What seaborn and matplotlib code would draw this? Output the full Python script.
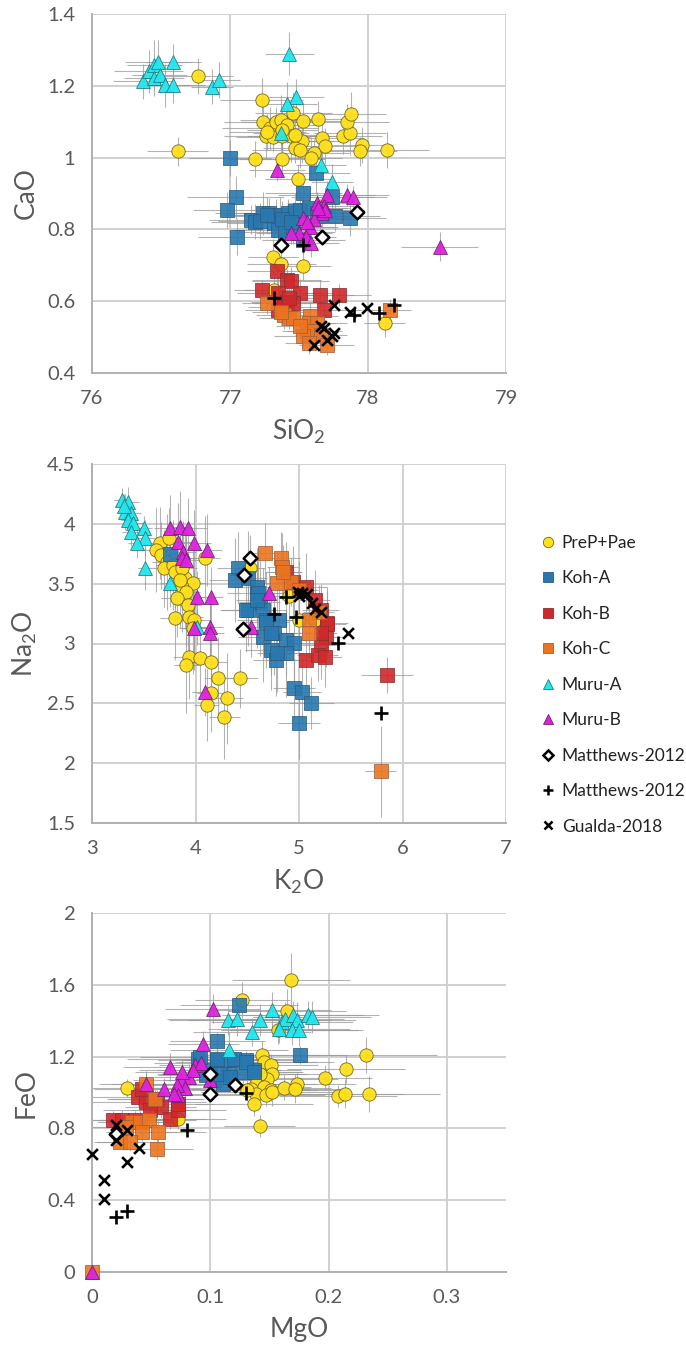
import matplotlib
matplotlib.use("Agg")
import matplotlib.pyplot as plt
from matplotlib.lines import Line2D
from matplotlib.ticker import FuncFormatter
import seaborn as sns
import pandas as pd

# ---------------------------------------------------------------- groups
groups = ["PreP+Pae", "Koh-A", "Koh-B", "Koh-C", "Muru-A", "Muru-B",
          "Matthews-2012", "Matthews-2012 ", "Gualda-2018"]

# ------------------------------------------------------- SiO2 vs CaO
prep_sio2 = [76.77, 76.62, 77.23, 77.24, 77.29, 77.33, 77.37, 77.41, 77.46, 77.53,
             77.64, 77.26, 77.31, 77.38, 77.44, 77.49, 77.52, 77.47, 77.51, 77.67,
             77.69, 77.61, 77.59, 77.18, 77.38, 77.49, 77.82, 77.87, 77.85, 77.88,
             77.96, 77.94, 78.14, 77.31, 77.37, 77.53, 77.32, 78.12, 77.27, 77.38,
             77.47]
prep_cao = [1.227, 1.017, 1.161, 1.100, 1.082, 1.100, 1.105, 1.091, 1.124, 1.103,
            1.108, 1.059, 1.057, 1.059, 1.059, 1.045, 1.045, 1.026, 1.022, 1.054,
            1.033, 1.012, 0.998, 0.996, 0.996, 0.940, 1.059, 1.068, 1.100, 1.122,
            1.035, 1.017, 1.022, 0.723, 0.704, 0.697, 0.630, 0.539, 1.072, 1.077,
            1.063]
prep_sio2_err = [0.25, 0.22, 0.30, 0.28, 0.35, 0.25, 0.30, 0.22, 0.28, 0.33,
                 0.25, 0.30, 0.27, 0.24, 0.32, 0.26, 0.29, 0.23, 0.35, 0.30,
                 0.27, 0.25, 0.22, 0.20, 0.31, 0.24, 0.28, 0.26, 0.30, 0.25,
                 0.22, 0.27, 0.30, 0.18, 0.25, 0.20, 0.22, 0.15, 0.28, 0.26,
                 0.24]
prep_cao_err = [0.05, 0.04, 0.06, 0.05, 0.06, 0.04, 0.07, 0.05, 0.06, 0.05,
                0.05, 0.06, 0.04, 0.05, 0.07, 0.05, 0.06, 0.04, 0.05, 0.06,
                0.05, 0.04, 0.06, 0.05, 0.05, 0.04, 0.05, 0.06, 0.05, 0.06,
                0.05, 0.04, 0.05, 0.05, 0.04, 0.04, 0.05, 0.04, 0.05, 0.06,
                0.05]

koha_sio2 = [77.00, 77.04, 76.98, 77.05, 77.15, 77.18, 77.24, 77.28, 77.33, 77.36,
             77.42, 77.47, 77.51, 77.57, 77.53, 77.62, 77.74, 77.76, 77.87, 77.22,
             77.32, 77.41, 77.65, 77.63, 77.35, 77.40, 77.46, 77.53, 77.27, 77.38,
             77.44]
koha_cao = [1.000, 0.890, 0.855, 0.778, 0.827, 0.822, 0.845, 0.847, 0.836, 0.841,
            0.845, 0.850, 0.855, 0.859, 0.901, 0.958, 0.891, 0.836, 0.831, 0.823,
            0.817, 0.817, 0.836, 0.845, 0.799, 0.794, 0.808, 0.771, 0.840, 0.830,
            0.820]
koha_sio2_err = [0.30, 0.35, 0.25, 0.28, 0.30, 0.32, 0.35, 0.27, 0.30, 0.38,
                 0.33, 0.29, 0.35, 0.30, 0.28, 0.25, 0.30, 0.33, 0.26, 0.31,
                 0.34, 0.28, 0.30, 0.27, 0.32, 0.36, 0.29, 0.30, 0.33, 0.27,
                 0.31]
koha_cao_err = [0.05, 0.06, 0.05, 0.05, 0.04, 0.05, 0.06, 0.04, 0.05, 0.05,
                0.04, 0.05, 0.06, 0.05, 0.05, 0.06, 0.05, 0.04, 0.05, 0.05,
                0.04, 0.05, 0.05, 0.04, 0.06, 0.05, 0.05, 0.04, 0.05, 0.05,
                0.04]

kohb_sio2 = [77.34, 77.41, 77.44, 77.23, 77.35, 77.51, 77.41, 77.38, 77.46, 77.65,
             77.79, 77.68, 77.35, 77.39, 77.43]
kohb_cao = [0.683, 0.660, 0.655, 0.630, 0.622, 0.622, 0.599, 0.595, 0.595, 0.618,
            0.618, 0.576, 0.576, 0.585, 0.610]
kohb_sio2_err = [0.22, 0.25, 0.28, 0.20, 0.30, 0.24, 0.26, 0.22, 0.27, 0.25,
                 0.23, 0.28, 0.24, 0.26, 0.22]
kohb_cao_err = [0.04, 0.03, 0.04, 0.03, 0.05, 0.04, 0.03, 0.04, 0.03, 0.04,
                0.03, 0.04, 0.03, 0.04, 0.03]

kohc_sio2 = [77.27, 77.39, 77.43, 77.46, 77.58, 77.57, 77.63, 77.56, 77.61, 77.53,
             77.66, 77.57, 77.70, 78.16, 77.37, 77.51]
kohc_cao = [0.595, 0.562, 0.553, 0.553, 0.558, 0.539, 0.539, 0.516, 0.516, 0.502,
            0.507, 0.484, 0.479, 0.576, 0.571, 0.530]
kohc_sio2_err = [0.18, 0.20, 0.22, 0.17, 0.20, 0.19, 0.22, 0.18, 0.20, 0.21,
                 0.19, 0.17, 0.20, 0.15, 0.21, 0.18]
kohc_cao_err = [0.03, 0.04, 0.03, 0.03, 0.04, 0.03, 0.03, 0.03, 0.04, 0.03,
                0.03, 0.03, 0.03, 0.03, 0.04, 0.03]

murua_sio2 = [76.37, 76.41, 76.45, 76.48, 76.45, 76.49, 76.53, 76.59, 76.59, 76.87,
              76.92, 77.43, 77.48, 77.41, 77.37, 77.66, 77.74]
murua_cao = [1.212, 1.240, 1.258, 1.267, 1.221, 1.230, 1.202, 1.202, 1.267, 1.198,
             1.216, 1.289, 1.170, 1.150, 1.068, 0.980, 0.931]
murua_sio2_err = [0.22, 0.25, 0.20, 0.24, 0.22, 0.20, 0.18, 0.23, 0.20, 0.15,
                  0.15, 0.18, 0.20, 0.22, 0.20, 0.18, 0.15]
murua_cao_err = [0.05, 0.06, 0.07, 0.06, 0.05, 0.05, 0.06, 0.05, 0.05, 0.05,
                 0.05, 0.06, 0.05, 0.06, 0.05, 0.04, 0.05]

murub_sio2 = [77.34, 78.52, 77.85, 77.89, 77.70, 77.63, 77.68, 77.67, 77.69, 77.53,
              77.61, 77.58, 77.50, 77.55, 77.59, 77.44, 77.56, 77.64]
murub_cao = [0.966, 0.752, 0.896, 0.891, 0.896, 0.873, 0.866, 0.845, 0.853, 0.831,
             0.829, 0.808, 0.790, 0.780, 0.762, 0.790, 0.820, 0.860]
murub_sio2_err = [0.20, 0.28, 0.30, 0.25, 0.35, 0.22, 0.25, 0.20, 0.28, 0.22,
                  0.25, 0.20, 0.24, 0.22, 0.20, 0.25, 0.23, 0.21]
murub_cao_err = [0.03, 0.04, 0.03, 0.03, 0.04, 0.03, 0.03, 0.04, 0.03, 0.03,
                 0.04, 0.03, 0.03, 0.03, 0.04, 0.03, 0.03, 0.03]

matd_sio2 = [77.37, 77.67, 77.92]
matd_cao = [0.757, 0.778, 0.848]
matp_sio2 = [77.53, 77.32, 77.90, 78.08, 78.19]
matp_cao = [0.757, 0.609, 0.562, 0.567, 0.590]
gual_sio2 = [77.75, 77.87, 77.99, 77.66, 77.68, 77.75, 77.74, 77.70, 77.61]
gual_cao = [0.590, 0.571, 0.581, 0.530, 0.525, 0.511, 0.502, 0.493, 0.479]

# ------------------------------------------------------- K2O vs Na2O
prep_k2o = [3.66, 3.62, 3.67, 3.72, 3.70, 3.78, 3.80, 3.74, 4.09, 3.90,
            3.98, 3.87, 3.91, 3.82, 3.93, 3.80, 3.94, 3.99, 3.98, 3.94,
            4.04, 3.91, 4.15, 4.22, 4.43, 4.15, 4.30, 4.11, 4.28, 4.53,
            4.90, 5.00, 5.15, 3.87, 3.85]
prep_na2o = [3.837, 3.781, 3.739, 3.683, 3.628, 3.656, 3.600, 3.879, 3.712, 3.544,
             3.502, 3.474, 3.432, 3.377, 3.321, 3.210, 3.223, 3.196, 3.126, 2.889,
             2.875, 2.819, 2.847, 2.708, 2.708, 2.583, 2.541, 2.485, 2.387, 3.628,
             3.396, 3.195, 3.195, 3.628, 3.530]
prep_k2o_err = [0.12, 0.15, 0.10, 0.14, 0.12, 0.16, 0.13, 0.11, 0.15, 0.14,
                0.12, 0.16, 0.13, 0.15, 0.12, 0.14, 0.13, 0.15, 0.12, 0.16,
                0.14, 0.12, 0.15, 0.13, 0.17, 0.14, 0.16, 0.12, 0.15, 0.14,
                0.15, 0.12, 0.13, 0.14, 0.12]
prep_na2o_err = [0.30, 0.35, 0.28, 0.40, 0.32, 0.38, 0.30, 0.25, 0.35, 0.42,
                 0.30, 0.38, 0.45, 0.32, 0.40, 0.35, 0.30, 0.42, 0.38, 0.35,
                 0.30, 0.40, 0.28, 0.35, 0.25, 0.32, 0.38, 0.30, 0.35, 0.28,
                 0.30, 0.25, 0.28, 0.35, 0.40]

koha_k2o = [4.41, 4.38, 4.51, 4.59, 4.60, 4.62, 4.51, 4.65, 4.68, 4.81,
            4.65, 4.76, 4.87, 4.95, 4.73, 4.87, 4.78, 4.95, 5.03, 5.12,
            5.00, 3.75, 4.49, 4.59, 4.68, 4.73, 4.79]
koha_na2o = [3.628, 3.530, 3.544, 3.474, 3.418, 3.349, 3.279, 3.279, 3.196, 3.196,
             3.056, 3.084, 3.028, 3.001, 2.945, 2.917, 2.861, 2.625, 2.596, 2.504,
             2.332, 3.750, 3.279, 3.363, 3.181, 3.084, 2.917]
koha_k2o_err = [0.20, 0.25, 0.18, 0.22, 0.30, 0.20, 0.25, 0.22, 0.28, 0.20,
                0.24, 0.26, 0.20, 0.22, 0.25, 0.18, 0.22, 0.20, 0.18, 0.22,
                0.20, 0.15, 0.25, 0.20, 0.22, 0.24, 0.20]
koha_na2o_err = [0.30, 0.35, 0.40, 0.32, 0.38, 0.45, 0.30, 0.35, 0.40, 0.32,
                 0.38, 0.35, 0.30, 0.40, 0.33, 0.36, 0.30, 0.25, 0.28, 0.22,
                 0.30, 0.25, 0.35, 0.40, 0.30, 0.35, 0.32]

kohb_k2o = [4.87, 4.94, 5.07, 5.15, 5.21, 5.27, 5.26, 5.21, 5.07, 5.18, 5.25, 5.85, 5.27, 5.21]
kohb_na2o = [3.600, 3.516, 3.474, 3.363, 3.279, 3.168, 3.056, 2.987, 2.861, 2.903,
             2.884, 2.736, 3.159, 3.084]
kohb_k2o_err = [0.15, 0.18, 0.20, 0.15, 0.18, 0.20, 0.16, 0.18, 0.15, 0.20, 0.17, 0.25, 0.18, 0.16]
kohb_na2o_err = [0.25, 0.30, 0.28, 0.25, 0.22, 0.30, 0.25, 0.28, 0.25, 0.22, 0.25, 0.15, 0.28, 0.24]

kohc_k2o = [4.67, 4.83, 4.84, 4.79, 4.92, 5.00, 5.19, 5.10, 5.10, 5.79, 4.85]
kohc_na2o = [3.758, 3.711, 3.641, 3.502, 3.516, 3.446, 3.265, 3.196, 3.084, 1.932, 3.600]
kohc_k2o_err = [0.15, 0.18, 0.15, 0.20, 0.16, 0.18, 0.15, 0.17, 0.16, 0.15, 0.18]
kohc_na2o_err = [0.25, 0.22, 0.28, 0.25, 0.20, 0.24, 0.22, 0.25, 0.20, 0.38, 0.22]

murua_k2o = [3.29, 3.35, 3.32, 3.38, 3.35, 3.40, 3.50, 3.38, 3.51, 3.43, 3.51, 3.75, 4.01, 3.31]
murua_na2o = [4.199, 4.185, 4.101, 4.088, 4.032, 4.004, 3.962, 3.934, 3.879, 3.837,
              3.628, 3.502, 3.140, 4.150]
murua_k2o_err = [0.08, 0.10, 0.08, 0.09, 0.07, 0.10, 0.08, 0.09, 0.10, 0.08, 0.07, 0.09, 0.08, 0.09]
murua_na2o_err = [0.10, 0.12, 0.15, 0.10, 0.12, 0.14, 0.10, 0.12, 0.15, 0.12, 0.18, 0.20, 0.15, 0.10]

murub_k2o = [3.75, 3.85, 3.93, 3.83, 3.99, 3.88, 4.11, 3.87, 3.91, 4.01,
             4.15, 3.99, 4.14, 4.14, 4.09, 4.54, 4.71]
murub_na2o = [3.962, 3.976, 3.962, 3.850, 3.837, 3.767, 3.781, 3.712, 3.697, 3.390,
              3.390, 3.126, 3.140, 3.084, 2.596, 3.140, 3.418]
murub_k2o_err = [0.15, 0.12, 0.18, 0.14, 0.16, 0.12, 0.15, 0.13, 0.17, 0.14,
                 0.12, 0.15, 0.13, 0.14, 0.12, 0.15, 0.16]
murub_na2o_err = [0.28, 0.30, 0.25, 0.32, 0.28, 0.26, 0.30, 0.25, 0.28, 0.22,
                  0.25, 0.28, 0.24, 0.26, 0.20, 0.25, 0.22]

matd_k2o = [4.53, 4.47, 4.46]
matd_na2o = [3.711, 3.572, 3.120]
matp_k2o = [4.87, 4.76, 4.97, 5.38, 5.79]
matp_na2o = [3.385, 3.245, 3.218, 3.008, 2.423]
gual_k2o = [4.99, 5.03, 5.00, 5.08, 5.13, 5.15, 5.21, 5.47]
gual_na2o = [3.43, 3.42, 3.40, 3.41, 3.34, 3.29, 3.26, 3.09]

# ------------------------------------------------------- MgO vs FeO
prep_mgo = [0.127, 0.165, 0.157, 0.232, 0.215, 0.197, 0.234, 0.208, 0.214, 0.142,
            0.144, 0.145, 0.151, 0.152, 0.148, 0.142, 0.139, 0.145, 0.151, 0.134,
            0.139, 0.147, 0.152, 0.162, 0.173, 0.172, 0.137, 0.131, 0.168, 0.030,
            0.073]
prep_feo = [1.514, 1.454, 1.350, 1.211, 1.131, 1.083, 0.994, 0.979, 0.994, 0.812,
            1.207, 1.170, 1.152, 1.105, 1.077, 1.105, 1.050, 1.031, 1.012, 1.022,
            0.994, 0.984, 1.003, 1.027, 1.050, 1.022, 0.938, 1.012, 1.629, 1.027,
            0.854]
prep_mgo_err = [0.04, 0.05, 0.04, 0.06, 0.05, 0.04, 0.06, 0.05, 0.05, 0.03,
                0.05, 0.06, 0.04, 0.05, 0.06, 0.04, 0.05, 0.04, 0.06, 0.05,
                0.04, 0.05, 0.06, 0.04, 0.05, 0.04, 0.05, 0.06, 0.05, 0.03,
                0.04]
prep_feo_err = [0.10, 0.12, 0.08, 0.10, 0.08, 0.07, 0.10, 0.06, 0.08, 0.06,
                0.08, 0.07, 0.06, 0.08, 0.07, 0.06, 0.08, 0.07, 0.06, 0.08,
                0.07, 0.06, 0.08, 0.07, 0.06, 0.08, 0.07, 0.06, 0.15, 0.05,
                0.06]

koha_mgo = [0.124, 0.106, 0.176, 0.090, 0.106, 0.117, 0.130, 0.137, 0.115, 0.128,
            0.103, 0.111, 0.100, 0.096, 0.091, 0.106, 0.120, 0.130, 0.137, 0.108,
            0.117]
koha_feo = [1.486, 1.287, 1.207, 1.189, 1.179, 1.179, 1.179, 1.124, 1.105, 1.114,
            1.068, 1.050, 1.124, 1.096, 1.198, 1.188, 1.188, 1.170, 1.114, 1.105,
            1.086]
koha_mgo_err = [0.05, 0.04, 0.04, 0.06, 0.05, 0.04, 0.05, 0.04, 0.06, 0.05,
                0.04, 0.05, 0.06, 0.04, 0.05, 0.04, 0.05, 0.06, 0.04, 0.05,
                0.04]
koha_feo_err = [0.06, 0.05, 0.05, 0.05, 0.06, 0.05, 0.05, 0.04, 0.05, 0.06,
                0.05, 0.04, 0.05, 0.05, 0.06, 0.05, 0.04, 0.05, 0.05, 0.06,
                0.05]

kohb_mgo = [0.018, 0.025, 0.039, 0.046, 0.055, 0.058, 0.049, 0.066, 0.073, 0.073, 0.042, 0.036]
kohb_feo = [0.845, 0.845, 0.975, 0.947, 0.966, 0.919, 0.901, 0.855, 0.901, 0.938, 1.022, 0.845]
kohb_mgo_err = [0.03, 0.03, 0.04, 0.05, 0.04, 0.03, 0.04, 0.03, 0.04, 0.03, 0.04, 0.03]
kohb_feo_err = [0.05, 0.06, 0.05, 0.06, 0.05, 0.06, 0.05, 0.06, 0.05, 0.06, 0.05, 0.05]

kohc_mgo = [0.046, 0.053, 0.034, 0.041, 0.048, 0.042, 0.056, 0.024, 0.032, 0.055, 0.029, 0.000]
kohc_feo = [1.050, 0.966, 0.837, 0.837, 0.845, 0.782, 0.782, 0.724, 0.724, 0.687, 0.808, 0.000]
kohc_mgo_err = [0.03, 0.04, 0.03, 0.03, 0.04, 0.03, 0.04, 0.02, 0.03, 0.03, 0.03, 0.0]
kohc_feo_err = [0.06, 0.05, 0.05, 0.06, 0.05, 0.05, 0.06, 0.04, 0.05, 0.06, 0.05, 0.0]

murua_mgo = [0.115, 0.123, 0.135, 0.142, 0.152, 0.161, 0.163, 0.170, 0.173, 0.183,
             0.186, 0.169, 0.175, 0.158, 0.116]
murua_feo = [1.402, 1.412, 1.337, 1.402, 1.458, 1.393, 1.412, 1.430, 1.402, 1.430,
             1.421, 1.347, 1.347, 1.356, 1.235]
murua_mgo_err = [0.05, 0.06, 0.05, 0.06, 0.05, 0.06, 0.05, 0.06, 0.05, 0.06,
                 0.05, 0.06, 0.05, 0.06, 0.05]
murua_feo_err = [0.08, 0.10, 0.08, 0.09, 0.10, 0.08, 0.09, 0.08, 0.10, 0.08,
                 0.09, 0.08, 0.09, 0.08, 0.10]

murub_mgo = [0.000, 0.102, 0.094, 0.066, 0.087, 0.092, 0.082, 0.075, 0.079, 0.072,
             0.061, 0.046, 0.073, 0.100, 0.085, 0.076, 0.069]
murub_feo = [0.000, 1.467, 1.272, 1.142, 1.151, 1.164, 1.086, 1.068, 1.027, 1.040,
             1.021, 1.049, 0.984, 1.068, 1.123, 1.114, 0.993]
murub_mgo_err = [0.0, 0.04, 0.03, 0.04, 0.03, 0.04, 0.03, 0.04, 0.03, 0.04,
                 0.03, 0.04, 0.03, 0.04, 0.03, 0.04, 0.03]
murub_feo_err = [0.0, 0.08, 0.07, 0.08, 0.07, 0.06, 0.07, 0.08, 0.06, 0.07,
                 0.06, 0.07, 0.06, 0.07, 0.06, 0.07, 0.06]

matd_mgo = [0.100, 0.100, 0.121, 0.020]
matd_feo = [1.101, 0.990, 1.040, 0.770]
matp_mgo = [0.020, 0.030, 0.080, 0.130]
matp_feo = [0.306, 0.338, 0.789, 0.997]
gual_mgo = [0.000, 0.010, 0.010, 0.020, 0.020, 0.030, 0.030, 0.040]
gual_feo = [0.659, 0.511, 0.409, 0.817, 0.737, 0.793, 0.613, 0.691]

# ---------------------------------------------------------------- styles
STYLE = {
    "PreP+Pae": dict(marker="o", s=92, color="#FFE01B", edgecolor="#6E6420", linewidth=0.6, alpha=0.95),
    "Koh-A": dict(marker="s", s=88, color="#2878B0", edgecolor="#2D5C7C", linewidth=0.6, alpha=0.9),
    "Koh-B": dict(marker="s", s=88, color="#D0282A", edgecolor="#8C3030", linewidth=0.6, alpha=0.9),
    "Koh-C": dict(marker="s", s=88, color="#EC7420", edgecolor="#A0603A", linewidth=0.6, alpha=0.9),
    "Muru-A": dict(marker="^", s=100, color="#22E6EE", edgecolor="#207A80", linewidth=0.6, alpha=0.95),
    "Muru-B": dict(marker="^", s=100, color="#DD22DD", edgecolor="#702070", linewidth=0.6, alpha=0.95),
    "Matthews-2012": dict(marker="D", s=48, color="white", edgecolor="black", linewidth=1.8),
    "Matthews-2012 ": dict(marker="+", s=95, color="black", linewidth=1.9),
    "Gualda-2018": dict(marker="x", s=60, color="black", linewidth=1.9),
}
ERR_COLOR = "#9A9A9A"
GRID = "#D0D0D0"
TICK = "#595959"

sns.set_theme(style="white")
plt.rcParams["font.family"] = ["Lato", "DejaVu Sans"]
plt.rcParams["mathtext.fontset"] = "custom"
plt.rcParams["mathtext.rm"] = "Lato"
plt.rcParams["mathtext.default"] = "regular"

fig = plt.figure(figsize=(6.86, 13.5), dpi=100)
W, H = 686.0, 1350.0


def add_axes(top_px, bottom_px):
    return fig.add_axes([92 / W, 1 - bottom_px / H, 414 / W, (bottom_px - top_px) / H])


def draw_panel(ax, series, xlabel, ylabel, xlim, ylim, xticks, yticks):
    # error bars underneath everything
    for name, x, y, xe, ye in series:
        if xe is not None:
            ax.errorbar(x, y, xerr=xe, yerr=ye, fmt="none", ecolor=ERR_COLOR,
                        elinewidth=0.8, capsize=0, alpha=0.75, zorder=1)
    for k, (name, x, y, xe, ye) in enumerate(series):
        df = pd.DataFrame({"x": x, "y": y})
        st = dict(STYLE[name])
        sns.scatterplot(data=df, x="x", y="y", ax=ax, legend=False,
                        zorder=3 + k, clip_on=False, **st)
    ax.set_xlim(*xlim)
    ax.set_ylim(*ylim)
    ax.set_xticks(xticks)
    ax.set_yticks(yticks)
    ax.xaxis.set_major_formatter(FuncFormatter(lambda v, p: f"{v:g}"))
    ax.yaxis.set_major_formatter(FuncFormatter(lambda v, p: f"{v:g}"))
    ax.grid(True, color=GRID, linewidth=1.4, zorder=0)
    ax.set_axisbelow(True)
    for side in ("top", "right"):
        ax.spines[side].set_visible(False)
    for side in ("left", "bottom"):
        ax.spines[side].set_color("#B0B0B0")
        ax.spines[side].set_linewidth(1.4)
    ax.tick_params(axis="x", length=0, pad=12, labelsize=14.5, labelcolor=TICK)
    ax.tick_params(axis="y", length=0, pad=12, labelsize=14.5, labelcolor=TICK)
    ax.set_xlabel(xlabel, fontsize=19, color=TICK, labelpad=8)
    ax.set_ylabel(ylabel, fontsize=19, color=TICK, labelpad=6)


ax1 = add_axes(14, 373)
draw_panel(ax1, [
    ("PreP+Pae", prep_sio2, prep_cao, prep_sio2_err, prep_cao_err),
    ("Koh-A", koha_sio2, koha_cao, koha_sio2_err, koha_cao_err),
    ("Koh-B", kohb_sio2, kohb_cao, kohb_sio2_err, kohb_cao_err),
    ("Koh-C", kohc_sio2, kohc_cao, kohc_sio2_err, kohc_cao_err),
    ("Muru-A", murua_sio2, murua_cao, murua_sio2_err, murua_cao_err),
    ("Muru-B", murub_sio2, murub_cao, murub_sio2_err, murub_cao_err),
    ("Matthews-2012", matd_sio2, matd_cao, None, None),
    ("Matthews-2012 ", matp_sio2, matp_cao, None, None),
    ("Gualda-2018", gual_sio2, gual_cao, None, None),
], "SiO$_2$", "CaO", (76, 79), (0.4, 1.4), [76, 77, 78, 79],
    [0.4, 0.6, 0.8, 1.0, 1.2, 1.4])

ax2 = add_axes(464, 823)
draw_panel(ax2, [
    ("PreP+Pae", prep_k2o, prep_na2o, prep_k2o_err, prep_na2o_err),
    ("Koh-A", koha_k2o, koha_na2o, koha_k2o_err, koha_na2o_err),
    ("Koh-B", kohb_k2o, kohb_na2o, kohb_k2o_err, kohb_na2o_err),
    ("Koh-C", kohc_k2o, kohc_na2o, kohc_k2o_err, kohc_na2o_err),
    ("Muru-A", murua_k2o, murua_na2o, murua_k2o_err, murua_na2o_err),
    ("Muru-B", murub_k2o, murub_na2o, murub_k2o_err, murub_na2o_err),
    ("Matthews-2012", matd_k2o, matd_na2o, None, None),
    ("Matthews-2012 ", matp_k2o, matp_na2o, None, None),
    ("Gualda-2018", gual_k2o, gual_na2o, None, None),
], "K$_2$O", "Na$_2$O", (3, 7), (1.5, 4.5), [3, 4, 5, 6, 7],
    [1.5, 2.0, 2.5, 3.0, 3.5, 4.0, 4.5])

ax3 = add_axes(913, 1272)
draw_panel(ax3, [
    ("PreP+Pae", prep_mgo, prep_feo, prep_mgo_err, prep_feo_err),
    ("Koh-A", koha_mgo, koha_feo, koha_mgo_err, koha_feo_err),
    ("Koh-B", kohb_mgo, kohb_feo, kohb_mgo_err, kohb_feo_err),
    ("Koh-C", kohc_mgo, kohc_feo, kohc_mgo_err, kohc_feo_err),
    ("Muru-A", murua_mgo, murua_feo, murua_mgo_err, murua_feo_err),
    ("Muru-B", murub_mgo, murub_feo, murub_mgo_err, murub_feo_err),
    ("Matthews-2012", matd_mgo, matd_feo, None, None),
    ("Matthews-2012 ", matp_mgo, matp_feo, None, None),
    ("Gualda-2018", gual_mgo, gual_feo, None, None),
], "MgO", "FeO", (0, 0.35), (0, 2), [0, 0.1, 0.2, 0.3],
    [0, 0.4, 0.8, 1.2, 1.6, 2.0])

# legend beside the middle panel
handles = []
for name in groups:
    st = STYLE[name]
    filled = st["marker"] not in ("+", "x")
    handles.append(Line2D([], [], linestyle="none", marker=st["marker"],
                          markersize=(st["s"] ** 0.5) * 0.78,
                          markerfacecolor=st["color"] if filled else "none",
                          markeredgecolor=st.get("edgecolor", st["color"]) if filled else "black",
                          markeredgewidth=st["linewidth"] if filled else 1.8,
                          label=name.strip()))
fig.legend(handles=handles, loc="upper left", bbox_to_anchor=(540 / W, 1 - 535 / H),
           frameon=False, fontsize=12.5, labelspacing=1.12, handlelength=0.9,
           handletextpad=0.35, borderaxespad=0, borderpad=0, labelcolor="#222222")

fig.savefig("out.png", dpi=100)
